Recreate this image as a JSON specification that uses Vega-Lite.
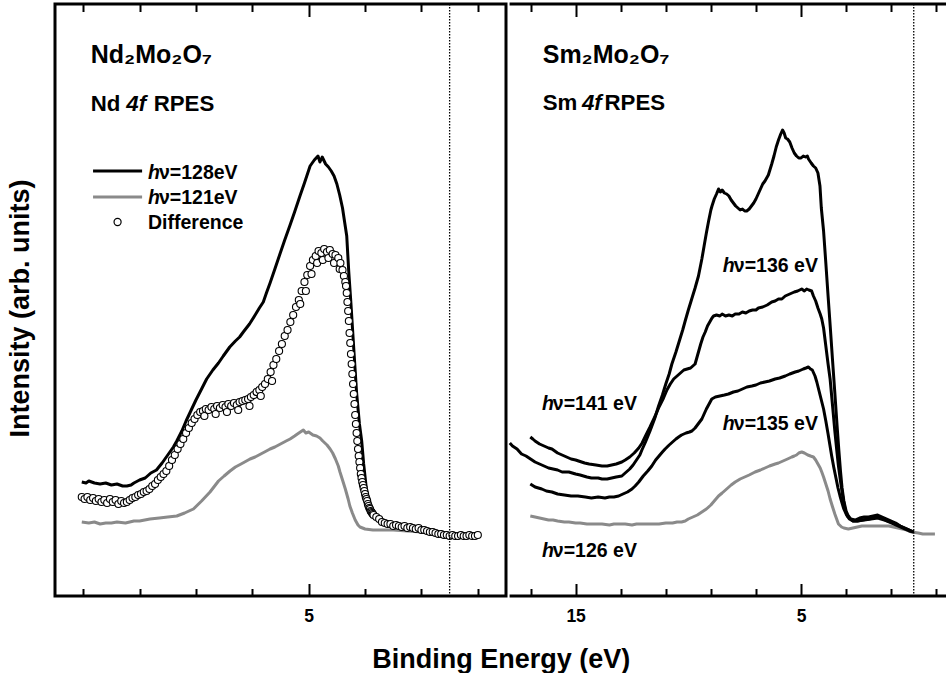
{
"$schema":"https://vega.github.io/schema/vega-lite/v6.json",
"padding":{"left":5,"top":1,"right":0,"bottom":0},
"spacing":0,
"config":{"font":"Liberation Sans","view":{"stroke":"black","strokeWidth":3},"axis":{"grid":false}},
"title":{"text":"Binding Energy (eV)","orient":"bottom","anchor":"middle","fontSize":27,"fontWeight":"bold","color":"black","offset":21,"dx":24},
"datasets":{
"nd128":[{"E":13.05,"I":114},{"E":12.9,"I":113},{"E":12.8,"I":115},{"E":12.6,"I":113},{"E":12.4,"I":112},{"E":12.2,"I":113},{"E":12.0,"I":111},{"E":11.8,"I":112},{"E":11.6,"I":110},{"E":11.45,"I":110},{"E":11.3,"I":111},{"E":11.2,"I":113},{"E":11.0,"I":116},{"E":10.8,"I":118},{"E":10.6,"I":123},{"E":10.4,"I":126},{"E":10.2,"I":133},{"E":10.0,"I":141},{"E":9.8,"I":149},{"E":9.68,"I":155},{"E":9.5,"I":165},{"E":9.35,"I":175},{"E":9.2,"I":184},{"E":9.0,"I":196},{"E":8.8,"I":207},{"E":8.62,"I":217},{"E":8.4,"I":226},{"E":8.2,"I":233},{"E":8.03,"I":240},{"E":7.8,"I":249},{"E":7.6,"I":255},{"E":7.45,"I":259},{"E":7.32,"I":264},{"E":7.1,"I":272},{"E":6.9,"I":281},{"E":6.75,"I":288},{"E":6.61,"I":294},{"E":6.5,"I":303},{"E":6.37,"I":313},{"E":6.2,"I":327},{"E":6.02,"I":342},{"E":5.85,"I":356},{"E":5.66,"I":371},{"E":5.5,"I":384},{"E":5.31,"I":400},{"E":5.15,"I":413},{"E":4.95,"I":430},{"E":4.8,"I":436},{"E":4.67,"I":440},{"E":4.6,"I":434},{"E":4.52,"I":439},{"E":4.4,"I":432},{"E":4.3,"I":429},{"E":4.2,"I":425},{"E":4.1,"I":420},{"E":4.0,"I":412},{"E":3.9,"I":401},{"E":3.8,"I":388},{"E":3.72,"I":373},{"E":3.65,"I":360},{"E":3.58,"I":325},{"E":3.5,"I":292},{"E":3.4,"I":247},{"E":3.3,"I":203},{"E":3.2,"I":172},{"E":3.12,"I":155},{"E":3.05,"I":132},{"E":2.95,"I":106},{"E":2.85,"I":91},{"E":2.7,"I":82},{"E":2.5,"I":77},{"E":2.36,"I":74},{"E":2.2,"I":73},{"E":2.0,"I":72},{"E":1.8,"I":71},{"E":1.5,"I":70},{"E":1.2,"I":69},{"E":1.0,"I":67},{"E":0.8,"I":66},{"E":0.5,"I":64},{"E":0.3,"I":62},{"E":0.1,"I":61},{"E":0.0,"I":60},{"E":-0.3,"I":60},{"E":-0.6,"I":61},{"E":-1.0,"I":60}],
"nd121":[{"E":13.05,"I":74},{"E":12.8,"I":73},{"E":12.6,"I":74},{"E":12.4,"I":72},{"E":12.2,"I":73},{"E":12.0,"I":73},{"E":11.8,"I":74},{"E":11.5,"I":73},{"E":11.2,"I":75},{"E":11.0,"I":75},{"E":10.63,"I":77},{"E":10.3,"I":78},{"E":10.0,"I":79},{"E":9.68,"I":80},{"E":9.4,"I":83},{"E":9.09,"I":87},{"E":8.8,"I":95},{"E":8.5,"I":104},{"E":8.2,"I":115},{"E":8.0,"I":120},{"E":7.79,"I":125},{"E":7.6,"I":129},{"E":7.4,"I":132},{"E":7.08,"I":137},{"E":6.9,"I":139},{"E":6.7,"I":142},{"E":6.5,"I":145},{"E":6.37,"I":147},{"E":6.2,"I":149},{"E":6.0,"I":152},{"E":5.8,"I":155},{"E":5.66,"I":157},{"E":5.5,"I":160},{"E":5.4,"I":162},{"E":5.19,"I":166},{"E":5.1,"I":163},{"E":5.0,"I":164},{"E":4.85,"I":161},{"E":4.72,"I":160},{"E":4.6,"I":158},{"E":4.5,"I":155},{"E":4.35,"I":151},{"E":4.24,"I":147},{"E":4.15,"I":143},{"E":4.05,"I":137},{"E":3.95,"I":130},{"E":3.89,"I":124},{"E":3.8,"I":116},{"E":3.7,"I":107},{"E":3.6,"I":97},{"E":3.54,"I":90},{"E":3.45,"I":83},{"E":3.35,"I":76},{"E":3.25,"I":71},{"E":3.18,"I":69},{"E":3.0,"I":67},{"E":2.72,"I":66},{"E":2.4,"I":66},{"E":2.0,"I":66},{"E":1.5,"I":65},{"E":1.0,"I":64},{"E":0.5,"I":62},{"E":0.0,"I":60},{"E":-0.5,"I":60},{"E":-1.0,"I":60}],
"ndDiff":[{"E":13.05,"I":99},{"E":12.95,"I":97},{"E":12.85,"I":99},{"E":12.75,"I":96},{"E":12.65,"I":98},{"E":12.55,"I":95},{"E":12.45,"I":97},{"E":12.35,"I":94},{"E":12.25,"I":96},{"E":12.15,"I":93},{"E":12.05,"I":97},{"E":11.95,"I":94},{"E":11.85,"I":96},{"E":11.75,"I":92},{"E":11.65,"I":95},{"E":11.55,"I":93},{"E":11.45,"I":94},{"E":11.35,"I":96},{"E":11.25,"I":98},{"E":11.15,"I":99},{"E":11.05,"I":101},{"E":10.95,"I":102},{"E":10.85,"I":104},{"E":10.75,"I":105},{"E":10.65,"I":107},{"E":10.55,"I":110},{"E":10.45,"I":112},{"E":10.35,"I":116},{"E":10.25,"I":119},{"E":10.15,"I":122},{"E":10.05,"I":125},{"E":9.95,"I":130},{"E":9.85,"I":136},{"E":9.75,"I":141},{"E":9.65,"I":147},{"E":9.55,"I":152},{"E":9.45,"I":157},{"E":9.35,"I":163},{"E":9.25,"I":168},{"E":9.15,"I":173},{"E":9.05,"I":177},{"E":8.95,"I":181},{"E":8.85,"I":184},{"E":8.75,"I":185},{"E":8.7,"I":180},{"E":8.65,"I":187},{"E":8.55,"I":186},{"E":8.45,"I":189},{"E":8.35,"I":187},{"E":8.3,"I":182},{"E":8.25,"I":190},{"E":8.15,"I":188},{"E":8.05,"I":191},{"E":7.95,"I":189},{"E":7.9,"I":184},{"E":7.85,"I":192},{"E":7.75,"I":190},{"E":7.65,"I":193},{"E":7.55,"I":191},{"E":7.5,"I":186},{"E":7.45,"I":194},{"E":7.35,"I":195},{"E":7.25,"I":196},{"E":7.15,"I":197},{"E":7.1,"I":190},{"E":7.05,"I":199},{"E":6.95,"I":201},{"E":6.85,"I":204},{"E":6.75,"I":206},{"E":6.7,"I":200},{"E":6.65,"I":209},{"E":6.55,"I":212},{"E":6.45,"I":217},{"E":6.35,"I":224},{"E":6.3,"I":215},{"E":6.25,"I":231},{"E":6.15,"I":237},{"E":6.05,"I":245},{"E":5.95,"I":252},{"E":5.85,"I":260},{"E":5.75,"I":266},{"E":5.65,"I":274},{"E":5.55,"I":281},{"E":5.45,"I":289},{"E":5.35,"I":296},{"E":5.3,"I":292},{"E":5.25,"I":305},{"E":5.15,"I":314},{"E":5.1,"I":305},{"E":5.05,"I":321},{"E":4.95,"I":330},{"E":4.9,"I":322},{"E":4.85,"I":336},{"E":4.75,"I":340},{"E":4.7,"I":333},{"E":4.65,"I":345},{"E":4.55,"I":343},{"E":4.5,"I":336},{"E":4.45,"I":347},{"E":4.35,"I":344},{"E":4.3,"I":338},{"E":4.25,"I":346},{"E":4.15,"I":342},{"E":4.1,"I":333},{"E":4.05,"I":341},{"E":3.95,"I":338},{"E":3.9,"I":327},{"E":3.875,"I":333},{"E":3.8,"I":326},{"E":3.75,"I":320},{"E":3.7,"I":314},{"E":3.675,"I":310},{"E":3.65,"I":303},{"E":3.625,"I":294},{"E":3.6,"I":285},{"E":3.575,"I":275},{"E":3.55,"I":263},{"E":3.525,"I":253},{"E":3.5,"I":242},{"E":3.475,"I":232},{"E":3.45,"I":222},{"E":3.425,"I":212},{"E":3.4,"I":202},{"E":3.375,"I":192},{"E":3.35,"I":181},{"E":3.325,"I":172},{"E":3.3,"I":163},{"E":3.275,"I":155},{"E":3.25,"I":147},{"E":3.225,"I":140},{"E":3.2,"I":134},{"E":3.175,"I":128},{"E":3.15,"I":122},{"E":3.125,"I":118},{"E":3.1,"I":114},{"E":3.075,"I":111},{"E":3.05,"I":108},{"E":3.025,"I":105},{"E":3.0,"I":102},{"E":2.975,"I":99},{"E":2.95,"I":97},{"E":2.925,"I":95},{"E":2.9,"I":92},{"E":2.875,"I":90},{"E":2.85,"I":88},{"E":2.825,"I":87},{"E":2.8,"I":85},{"E":2.775,"I":84},{"E":2.75,"I":83},{"E":2.725,"I":82},{"E":2.7,"I":81},{"E":2.6,"I":79},{"E":2.5,"I":77},{"E":2.4,"I":74},{"E":2.3,"I":73},{"E":2.2,"I":72},{"E":2.1,"I":72},{"E":2.0,"I":70},{"E":1.9,"I":71},{"E":1.8,"I":70},{"E":1.7,"I":69},{"E":1.6,"I":70},{"E":1.5,"I":68},{"E":1.4,"I":69},{"E":1.3,"I":68},{"E":1.2,"I":67},{"E":1.1,"I":68},{"E":1.0,"I":66},{"E":0.9,"I":66},{"E":0.8,"I":65},{"E":0.7,"I":64},{"E":0.6,"I":64},{"E":0.5,"I":63},{"E":0.4,"I":62},{"E":0.3,"I":62},{"E":0.2,"I":61},{"E":0.1,"I":61},{"E":0.0,"I":60},{"E":-0.1,"I":61},{"E":-0.2,"I":60},{"E":-0.3,"I":60},{"E":-0.4,"I":61},{"E":-0.5,"I":60},{"E":-0.6,"I":60},{"E":-0.7,"I":61},{"E":-0.8,"I":60},{"E":-0.9,"I":60},{"E":-1.0,"I":61}],
"sm141":[{"E":17.92,"I":153},{"E":17.8,"I":150},{"E":17.6,"I":147},{"E":17.4,"I":142},{"E":17.2,"I":140},{"E":17.0,"I":137},{"E":16.8,"I":134},{"E":16.6,"I":132},{"E":16.4,"I":130},{"E":16.2,"I":128},{"E":16.0,"I":127},{"E":15.8,"I":126},{"E":15.6,"I":124},{"E":15.3,"I":124},{"E":15.0,"I":122},{"E":14.8,"I":121},{"E":14.5,"I":119},{"E":14.3,"I":118},{"E":14.0,"I":118},{"E":13.83,"I":117},{"E":13.6,"I":117},{"E":13.4,"I":118},{"E":13.2,"I":119},{"E":12.95,"I":120},{"E":12.8,"I":123},{"E":12.6,"I":127},{"E":12.45,"I":131},{"E":12.3,"I":136},{"E":12.15,"I":141},{"E":12.06,"I":146},{"E":11.9,"I":154},{"E":11.7,"I":165},{"E":11.5,"I":177},{"E":11.32,"I":190},{"E":11.15,"I":201},{"E":11.0,"I":212},{"E":10.85,"I":222},{"E":10.73,"I":232},{"E":10.55,"I":244},{"E":10.4,"I":255},{"E":10.25,"I":266},{"E":10.14,"I":275},{"E":10.0,"I":286},{"E":9.85,"I":297},{"E":9.7,"I":308},{"E":9.55,"I":320},{"E":9.4,"I":337},{"E":9.3,"I":350},{"E":9.2,"I":363},{"E":9.1,"I":375},{"E":9.0,"I":386},{"E":8.95,"I":390},{"E":8.85,"I":397},{"E":8.75,"I":402},{"E":8.66,"I":407},{"E":8.58,"I":404},{"E":8.5,"I":406},{"E":8.4,"I":403},{"E":8.3,"I":402},{"E":8.2,"I":400},{"E":8.1,"I":396},{"E":8.0,"I":393},{"E":7.9,"I":390},{"E":7.8,"I":388},{"E":7.7,"I":386},{"E":7.6,"I":387},{"E":7.5,"I":385},{"E":7.41,"I":385},{"E":7.3,"I":387},{"E":7.2,"I":390},{"E":7.1,"I":393},{"E":7.0,"I":397},{"E":6.9,"I":402},{"E":6.8,"I":407},{"E":6.7,"I":412},{"E":6.6,"I":415},{"E":6.45,"I":421},{"E":6.3,"I":432},{"E":6.2,"I":440},{"E":6.1,"I":449},{"E":6.0,"I":456},{"E":5.9,"I":462},{"E":5.82,"I":466},{"E":5.75,"I":463},{"E":5.68,"I":458},{"E":5.6,"I":457},{"E":5.5,"I":454},{"E":5.4,"I":448},{"E":5.3,"I":443},{"E":5.2,"I":440},{"E":5.1,"I":438},{"E":5.0,"I":438},{"E":4.9,"I":440},{"E":4.8,"I":439},{"E":4.72,"I":440},{"E":4.67,"I":437},{"E":4.55,"I":433},{"E":4.45,"I":430},{"E":4.35,"I":428},{"E":4.25,"I":423},{"E":4.16,"I":410},{"E":4.1,"I":388},{"E":4.0,"I":365},{"E":3.9,"I":333},{"E":3.8,"I":300},{"E":3.7,"I":268},{"E":3.6,"I":235},{"E":3.5,"I":203},{"E":3.4,"I":170},{"E":3.32,"I":145},{"E":3.25,"I":125},{"E":3.18,"I":108},{"E":3.1,"I":95},{"E":3.0,"I":85},{"E":2.9,"I":80},{"E":2.8,"I":77},{"E":2.6,"I":76},{"E":2.4,"I":78},{"E":2.2,"I":79},{"E":2.0,"I":79},{"E":1.8,"I":80},{"E":1.6,"I":81},{"E":1.4,"I":79},{"E":1.2,"I":77},{"E":1.0,"I":75},{"E":0.8,"I":73},{"E":0.6,"I":70},{"E":0.4,"I":68},{"E":0.2,"I":66},{"E":0.0,"I":64}],
"sm136":[{"E":17.01,"I":159},{"E":16.9,"I":157},{"E":16.8,"I":155},{"E":16.6,"I":152},{"E":16.4,"I":150},{"E":16.2,"I":148},{"E":16.05,"I":147},{"E":15.8,"I":143},{"E":15.6,"I":141},{"E":15.4,"I":139},{"E":15.2,"I":137},{"E":15.0,"I":136},{"E":14.87,"I":135},{"E":14.6,"I":133},{"E":14.4,"I":132},{"E":14.1,"I":131},{"E":13.83,"I":130},{"E":13.6,"I":130},{"E":13.4,"I":131},{"E":13.2,"I":132},{"E":12.95,"I":134},{"E":12.8,"I":136},{"E":12.6,"I":139},{"E":12.4,"I":143},{"E":12.2,"I":148},{"E":12.05,"I":153},{"E":11.9,"I":160},{"E":11.7,"I":169},{"E":11.47,"I":180},{"E":11.3,"I":189},{"E":11.1,"I":198},{"E":10.95,"I":206},{"E":10.8,"I":212},{"E":10.65,"I":217},{"E":10.5,"I":220},{"E":10.35,"I":223},{"E":10.2,"I":226},{"E":10.05,"I":227},{"E":9.9,"I":228},{"E":9.8,"I":230},{"E":9.7,"I":232},{"E":9.6,"I":240},{"E":9.45,"I":252},{"E":9.35,"I":259},{"E":9.25,"I":264},{"E":9.15,"I":270},{"E":9.05,"I":274},{"E":8.95,"I":278},{"E":8.88,"I":280},{"E":8.75,"I":281},{"E":8.6,"I":280},{"E":8.5,"I":282},{"E":8.35,"I":280},{"E":8.2,"I":281},{"E":8.05,"I":280},{"E":7.92,"I":282},{"E":7.75,"I":282},{"E":7.6,"I":284},{"E":7.45,"I":283},{"E":7.3,"I":285},{"E":7.15,"I":286},{"E":7.0,"I":286},{"E":6.89,"I":288},{"E":6.7,"I":289},{"E":6.5,"I":291},{"E":6.3,"I":294},{"E":6.15,"I":295},{"E":6.0,"I":297},{"E":5.85,"I":297},{"E":5.7,"I":300},{"E":5.5,"I":302},{"E":5.3,"I":304},{"E":5.15,"I":305},{"E":4.97,"I":307},{"E":4.85,"I":305},{"E":4.75,"I":307},{"E":4.65,"I":306},{"E":4.53,"I":305},{"E":4.45,"I":300},{"E":4.35,"I":295},{"E":4.25,"I":288},{"E":4.15,"I":282},{"E":4.08,"I":277},{"E":4.0,"I":268},{"E":3.9,"I":250},{"E":3.8,"I":232},{"E":3.71,"I":217},{"E":3.6,"I":190},{"E":3.5,"I":165},{"E":3.42,"I":147},{"E":3.34,"I":130},{"E":3.25,"I":115},{"E":3.15,"I":100},{"E":3.05,"I":87},{"E":2.95,"I":80},{"E":2.85,"I":77},{"E":2.7,"I":75},{"E":2.5,"I":75},{"E":2.3,"I":76},{"E":2.0,"I":77},{"E":1.8,"I":78},{"E":1.6,"I":79},{"E":1.4,"I":78},{"E":1.2,"I":75},{"E":1.0,"I":73},{"E":0.8,"I":71},{"E":0.6,"I":69},{"E":0.4,"I":67},{"E":0.2,"I":65},{"E":0.0,"I":64}],
"sm135":[{"E":17.01,"I":112},{"E":16.8,"I":109},{"E":16.5,"I":107},{"E":16.3,"I":105},{"E":16.05,"I":104},{"E":15.8,"I":102},{"E":15.5,"I":101},{"E":15.2,"I":100},{"E":14.9,"I":100},{"E":14.57,"I":99},{"E":14.3,"I":98},{"E":14.0,"I":99},{"E":13.7,"I":98},{"E":13.5,"I":99},{"E":13.3,"I":99},{"E":13.09,"I":100},{"E":12.9,"I":102},{"E":12.7,"I":104},{"E":12.5,"I":107},{"E":12.36,"I":110},{"E":12.2,"I":114},{"E":12.0,"I":120},{"E":11.8,"I":125},{"E":11.62,"I":130},{"E":11.45,"I":136},{"E":11.3,"I":140},{"E":11.15,"I":144},{"E":11.03,"I":147},{"E":10.85,"I":151},{"E":10.7,"I":154},{"E":10.55,"I":157},{"E":10.43,"I":159},{"E":10.3,"I":161},{"E":10.1,"I":163},{"E":9.95,"I":164},{"E":9.84,"I":165},{"E":9.7,"I":168},{"E":9.6,"I":171},{"E":9.5,"I":174},{"E":9.4,"I":177},{"E":9.3,"I":182},{"E":9.2,"I":187},{"E":9.08,"I":192},{"E":8.96,"I":197},{"E":8.8,"I":199},{"E":8.6,"I":200},{"E":8.4,"I":201},{"E":8.22,"I":202},{"E":8.0,"I":204},{"E":7.8,"I":205},{"E":7.6,"I":207},{"E":7.4,"I":209},{"E":7.18,"I":210},{"E":7.0,"I":211},{"E":6.8,"I":213},{"E":6.6,"I":214},{"E":6.4,"I":215},{"E":6.15,"I":217},{"E":5.95,"I":218},{"E":5.7,"I":220},{"E":5.5,"I":222},{"E":5.26,"I":224},{"E":5.1,"I":225},{"E":4.9,"I":227},{"E":4.78,"I":228},{"E":4.67,"I":229},{"E":4.58,"I":227},{"E":4.5,"I":226},{"E":4.38,"I":220},{"E":4.3,"I":214},{"E":4.2,"I":205},{"E":4.1,"I":196},{"E":4.0,"I":187},{"E":3.9,"I":175},{"E":3.8,"I":162},{"E":3.72,"I":151},{"E":3.64,"I":140},{"E":3.55,"I":129},{"E":3.45,"I":118},{"E":3.36,"I":108},{"E":3.27,"I":100},{"E":3.18,"I":93},{"E":3.1,"I":87},{"E":3.0,"I":82},{"E":2.9,"I":79},{"E":2.8,"I":77},{"E":2.7,"I":75},{"E":2.5,"I":75},{"E":2.2,"I":76},{"E":1.9,"I":77},{"E":1.6,"I":78},{"E":1.3,"I":76},{"E":1.0,"I":74},{"E":0.8,"I":72},{"E":0.6,"I":70},{"E":0.3,"I":67},{"E":0.0,"I":64}],
"sm126":[{"E":17.01,"I":80},{"E":16.8,"I":79},{"E":16.6,"I":78},{"E":16.4,"I":77},{"E":16.2,"I":76},{"E":16.0,"I":76},{"E":15.8,"I":75},{"E":15.5,"I":74},{"E":15.3,"I":74},{"E":15.0,"I":73},{"E":14.8,"I":73},{"E":14.5,"I":72},{"E":14.3,"I":72},{"E":14.0,"I":72},{"E":13.83,"I":72},{"E":13.5,"I":71},{"E":13.3,"I":72},{"E":13.0,"I":72},{"E":12.8,"I":72},{"E":12.5,"I":71},{"E":12.3,"I":72},{"E":12.0,"I":72},{"E":11.62,"I":72},{"E":11.3,"I":72},{"E":11.0,"I":73},{"E":10.7,"I":73},{"E":10.5,"I":74},{"E":10.3,"I":74},{"E":10.14,"I":75},{"E":10.0,"I":77},{"E":9.8,"I":79},{"E":9.6,"I":81},{"E":9.4,"I":84},{"E":9.2,"I":87},{"E":9.0,"I":91},{"E":8.85,"I":95},{"E":8.66,"I":100},{"E":8.5,"I":103},{"E":8.3,"I":107},{"E":8.1,"I":111},{"E":7.92,"I":114},{"E":7.7,"I":117},{"E":7.5,"I":119},{"E":7.3,"I":121},{"E":7.04,"I":124},{"E":6.8,"I":126},{"E":6.6,"I":128},{"E":6.4,"I":130},{"E":6.15,"I":132},{"E":6.0,"I":133},{"E":5.8,"I":135},{"E":5.6,"I":137},{"E":5.41,"I":139},{"E":5.3,"I":140},{"E":5.2,"I":141},{"E":5.1,"I":143},{"E":4.97,"I":144},{"E":4.85,"I":143},{"E":4.7,"I":141},{"E":4.58,"I":140},{"E":4.45,"I":139},{"E":4.35,"I":136},{"E":4.25,"I":132},{"E":4.15,"I":128},{"E":4.08,"I":124},{"E":4.0,"I":119},{"E":3.9,"I":112},{"E":3.8,"I":105},{"E":3.71,"I":97},{"E":3.6,"I":89},{"E":3.5,"I":82},{"E":3.42,"I":77},{"E":3.34,"I":72},{"E":3.2,"I":69},{"E":3.1,"I":68},{"E":2.9,"I":67},{"E":2.7,"I":68},{"E":2.5,"I":69},{"E":2.3,"I":70},{"E":2.01,"I":70},{"E":1.8,"I":70},{"E":1.6,"I":70},{"E":1.27,"I":70},{"E":1.1,"I":70},{"E":0.9,"I":69},{"E":0.7,"I":68},{"E":0.5,"I":67},{"E":0.3,"I":66},{"E":0.09,"I":64},{"E":-0.2,"I":63},{"E":-0.4,"I":62},{"E":-0.7,"I":62},{"E":-0.94,"I":62}]
},
"hconcat":[
{
"width":451,"height":592,
"layer":[
{"data":{"name":"nd121"},"mark":{"type":"line","color":"#8a8a8a","strokeWidth":3,"strokeJoin":"round"},
 "encoding":{
  "x":{"field":"E","type":"quantitative","scale":{"domain":[-2,14],"reverse":true,"nice":false,"zero":false},
       "axis":{"orient":"bottom","values":[13,12,11,10,9,8,7,6,5,4,3,2,1,0,-1],"labelExpr":"datum.value % 5 === 0 ? datum.label : ''","ticks":false,"domain":false,
               "grid":true,"gridColor":"black","gridWidth":2,"gridOpacity":1,
               "gridDash":{"condition":{"test":"datum.value % 5 === 0","value":[12.5,567,12.5]},"value":[7.5,577,7.5]},
               "labelFontSize":17.5,"labelFontWeight":"bold","labelColor":"black","labelPadding":11,"labelFlush":false,"title":null}},
  "y":{"field":"I","type":"quantitative","scale":{"domain":[0,592],"nice":false,"zero":false},
       "axis":{"orient":"left","labels":false,"ticks":false,"grid":false,"domain":false,"title":"Intensity (arb. units)","titleFontSize":27,"titleFontWeight":"bold","titleColor":"black","titlePadding":20.5,"titleY":304}}}},
{"data":{"name":"nd128"},"mark":{"type":"line","color":"black","strokeWidth":3,"strokeJoin":"round"},
 "encoding":{"x":{"field":"E","type":"quantitative"},"y":{"field":"I","type":"quantitative"}}},
{"data":{"name":"ndDiff"},"mark":{"type":"point","shape":"circle","filled":true,"fill":"white","stroke":"black","strokeWidth":1.1,"size":50,"opacity":1},
 "encoding":{"x":{"field":"E","type":"quantitative"},"y":{"field":"I","type":"quantitative"}}},
{"data":{"values":[{"E":0}]},"mark":{"type":"rule","color":"black","strokeWidth":1.3,"strokeDash":[1.5,1.5]},
 "encoding":{"x":{"field":"E","type":"quantitative"}}},
{"data":{"values":[{"E":12.65,"E2":10.91,"I":425,"s":"128"},{"E":12.65,"E2":10.91,"I":399,"s":"121"}]},"mark":{"type":"rule","strokeWidth":3},
 "encoding":{
  "x":{"field":"E","type":"quantitative"},
  "x2":{"field":"E2"},
  "y":{"field":"I","type":"quantitative"},
  "color":{"field":"s","type":"nominal","scale":{"domain":["128","121"],"range":["black","#8a8a8a"]},"legend":null}}},
{"data":{"values":[{"E":11.78,"I":374}]},"mark":{"type":"point","shape":"circle","filled":true,"fill":"white","stroke":"black","strokeWidth":1.2,"size":50,"opacity":1},
 "encoding":{"x":{"field":"E","type":"quantitative"},"y":{"field":"I","type":"quantitative"}}},
{"data":{"values":[{"E":12.73,"I":533,"t":"Nd₂Mo₂O₇","k":"formula"},{"E":12.73,"I":485.5,"t":"Nd","k":"sub"},{"E":10.5,"I":485.5,"t":"RPES","k":"sub"},{"E":10.31,"I":417,"t":"ν=128eV","k":"lab"},{"E":10.31,"I":392,"t":"ν=121eV","k":"lab"},{"E":10.7,"I":367,"t":"Difference","k":"lab"}]},
 "mark":{"type":"text","fontWeight":"bold","align":"left","baseline":"alphabetic","color":"black"},
 "encoding":{
  "x":{"field":"E","type":"quantitative"},
  "y":{"field":"I","type":"quantitative"},
  "text":{"field":"t"},
  "size":{"field":"k","type":"ordinal","scale":{"domain":["formula","sub","lab"],"range":[25,19.5,19]},"legend":null}}},
{"data":{"values":[{"E":11.47,"I":485.5,"t":"4f","k":"sub"},{"E":10.7,"I":417,"t":"h","k":"lab"},{"E":10.7,"I":392,"t":"h","k":"lab"}]},
 "mark":{"type":"text","fontWeight":"bold","fontStyle":"italic","align":"left","baseline":"alphabetic","color":"black"},
 "encoding":{
  "x":{"field":"E","type":"quantitative"},
  "y":{"field":"I","type":"quantitative"},
  "text":{"field":"t"},
  "size":{"field":"k","type":"ordinal","scale":{"domain":["formula","sub","lab"],"range":[25,19.5,19]},"legend":null}}}
]
},
{
"width":440,"height":592,
"view":{"stroke":null},
"layer":[
{"data":{"name":"sm126"},"mark":{"type":"line","color":"#8a8a8a","strokeWidth":3,"strokeJoin":"round"},
 "encoding":{
  "x":{"field":"E","type":"quantitative","scale":{"domain":[-1.52,18],"reverse":true,"nice":false,"zero":false},
       "axis":{"orient":"bottom","values":[17,16,15,14,13,12,11,10,9,8,7,6,5,4,3,2,1,0,-1],"labelExpr":"datum.value % 5 === 0 ? datum.label : ''","ticks":false,"domain":false,
               "grid":true,"gridColor":"black","gridWidth":2,"gridOpacity":1,
               "gridDash":{"condition":{"test":"datum.value % 5 === 0","value":[12.5,567,12.5]},"value":[7.5,577,7.5]},
               "labelFontSize":17.5,"labelFontWeight":"bold","labelColor":"black","labelPadding":11,"labelFlush":false,"title":null}},
  "y":{"field":"I","type":"quantitative","scale":{"domain":[0,592],"nice":false,"zero":false},"axis":null}}},
{"data":{"name":"sm135"},"mark":{"type":"line","color":"black","strokeWidth":3,"strokeJoin":"round"},
 "encoding":{"x":{"field":"E","type":"quantitative"},"y":{"field":"I","type":"quantitative","axis":null}}},
{"data":{"name":"sm136"},"mark":{"type":"line","color":"black","strokeWidth":3,"strokeJoin":"round"},
 "encoding":{"x":{"field":"E","type":"quantitative"},"y":{"field":"I","type":"quantitative","axis":null}}},
{"data":{"name":"sm141"},"mark":{"type":"line","color":"black","strokeWidth":3,"strokeJoin":"round"},
 "encoding":{"x":{"field":"E","type":"quantitative"},"y":{"field":"I","type":"quantitative","axis":null}}},
{"data":{"values":[{"E":17.93,"E2":-1.52,"I":0},{"E":17.93,"E2":-1.52,"I":592}]},"mark":{"type":"rule","color":"black","strokeWidth":3},
 "encoding":{"x":{"field":"E","type":"quantitative"},"x2":{"field":"E2"},"y":{"field":"I","type":"quantitative","axis":null}}},
{"data":{"values":[{"E":0}]},"mark":{"type":"rule","color":"black","strokeWidth":1.3,"strokeDash":[1.5,1.5]},
 "encoding":{"x":{"field":"E","type":"quantitative"}}},
{"data":{"values":[{"E":16.46,"I":533,"t":"Sm₂Mo₂O₇","k":"formula"},{"E":16.46,"I":486,"t":"Sm","k":"sub"},{"E":13.72,"I":486,"t":"RPES","k":"sub"},{"E":7.98,"I":324,"t":"ν=136 eV","k":"lab"},{"E":16.01,"I":186,"t":"ν=141 eV","k":"lab"},{"E":7.98,"I":166,"t":"ν=135 eV","k":"lab"},{"E":16.01,"I":39,"t":"ν=126 eV","k":"lab"}]},
 "mark":{"type":"text","fontWeight":"bold","align":"left","baseline":"alphabetic","color":"black"},
 "encoding":{
  "x":{"field":"E","type":"quantitative"},
  "y":{"field":"I","type":"quantitative","axis":null},
  "text":{"field":"t"},
  "size":{"field":"k","type":"ordinal","scale":{"domain":["formula","sub","lab"],"range":[25,19.5,18.6]},"legend":null}}},
{"data":{"values":[{"E":14.72,"I":486,"t":"4f","k":"sub"},{"E":8.47,"I":324,"t":"h","k":"lab"},{"E":16.49,"I":186,"t":"h","k":"lab"},{"E":8.47,"I":166,"t":"h","k":"lab"},{"E":16.49,"I":39,"t":"h","k":"lab"}]},
 "mark":{"type":"text","fontWeight":"bold","fontStyle":"italic","align":"left","baseline":"alphabetic","color":"black"},
 "encoding":{
  "x":{"field":"E","type":"quantitative"},
  "y":{"field":"I","type":"quantitative","axis":null},
  "text":{"field":"t"},
  "size":{"field":"k","type":"ordinal","scale":{"domain":["formula","sub","lab"],"range":[25,19.5,18.6]},"legend":null}}}
]
}
]
}
